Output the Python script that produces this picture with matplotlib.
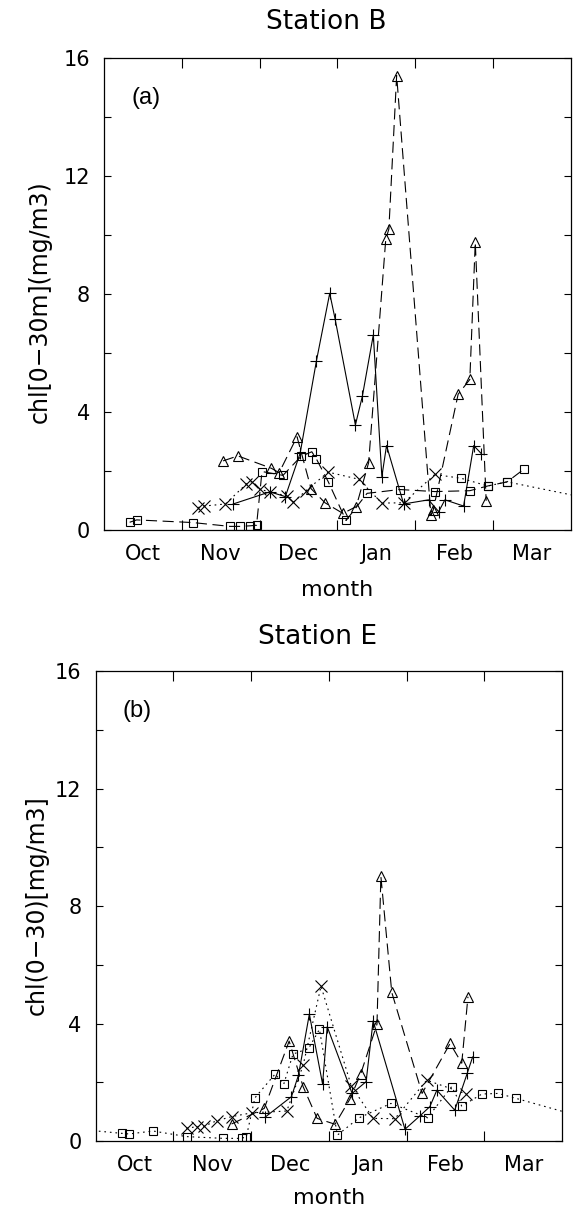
import numpy as np
import matplotlib
matplotlib.use("Agg")
import matplotlib.pyplot as plt

plt.rcParams['font.family'] = ['DejaVu Sans']
plt.rcParams['lines.scale_dashes'] = False

# x positions are in months since 1 Oct (0 = start of Oct, 6 = end of Mar)
MONTHS = ["Oct", "Nov", "Dec", "Jan", "Feb", "Mar"]

# ---- Station B (panel a) ----
a_plus_x = [1.66, 2.13, 2.33, 2.52, 2.73, 2.90, 2.97, 3.23, 3.32, 3.46, 3.57, 3.63,
            3.85, 4.17, 4.30, 4.38, 4.62, 4.75, 4.85]
a_plus_y = [0.88, 1.29, 1.13, 2.60, 5.74, 8.02, 7.14, 3.56, 4.54, 6.61, 1.81, 2.86,
            0.88, 1.02, 0.62, 1.02, 0.81, 2.86, 2.58]

a_tri_x = [1.53, 1.72, 2.15, 2.25, 2.48, 2.66, 2.84, 3.07, 3.24, 3.40, 3.62, 3.66,
           3.76, 4.20, 4.23, 4.55, 4.70, 4.77, 4.91]
a_tri_y = [2.34, 2.51, 2.09, 1.94, 3.16, 1.40, 0.92, 0.56, 0.79, 2.28, 9.85, 10.2,
           15.4, 0.51, 0.68, 4.60, 5.10, 9.75, 0.99]

a_x_x = [1.21, 1.29, 1.56, 1.83, 1.90, 2.00, 2.13, 2.35, 2.43, 2.59, 2.88, 3.27,
         3.57, 3.85, 4.25]
a_x_y = [0.76, 0.81, 0.88, 1.56, 1.64, 1.38, 1.29, 1.15, 0.93, 1.32, 1.96, 1.72,
         0.91, 0.92, 1.88]

a_sq_x = [0.33, 0.42, 1.14, 1.62, 1.75, 1.88, 1.96, 2.03, 2.30, 2.53, 2.67, 2.73,
          2.88, 3.11, 3.38, 3.80, 4.25, 4.70, 4.93, 5.18, 5.40]
a_sq_y = [0.26, 0.34, 0.25, 0.12, 0.12, 0.14, 0.16, 1.98, 1.85, 2.49, 2.65, 2.40,
          1.64, 0.32, 1.24, 1.37, 1.30, 1.33, 1.49, 1.63, 2.07]

a_sqd_x = [4.59, 4.93, 5.18, 6.15]
a_sqd_y = [1.75, 1.49, 1.63, 1.11]

# ---- Station E (panel b) ----
b_plus_x = [2.18, 2.52, 2.61, 2.75, 2.92, 2.98, 3.30, 3.48, 3.57, 3.98, 4.17, 4.30,
            4.39, 4.62, 4.78, 4.85]
b_plus_y = [0.81, 1.51, 2.24, 4.32, 1.94, 3.89, 1.62, 2.02, 4.09, 0.40, 0.85, 1.17,
            1.73, 1.05, 2.30, 2.86]

b_tri_x = [1.75, 2.17, 2.49, 2.67, 2.85, 3.08, 3.27, 3.41, 3.62, 3.67, 3.81, 4.20,
           4.56, 4.71, 4.79]
b_tri_y = [0.58, 1.11, 3.40, 1.85, 0.77, 0.57, 1.42, 2.28, 3.98, 9.01, 5.06, 1.62,
           3.32, 2.65, 4.91]

b_x_x = [1.17, 1.30, 1.40, 1.56, 1.75, 2.01, 2.46, 2.67, 2.90, 3.29, 3.57, 3.85,
         4.26, 4.77]
b_x_y = [0.43, 0.49, 0.51, 0.69, 0.83, 0.96, 1.02, 2.58, 5.27, 1.87, 0.77, 0.76,
         2.07, 1.60]

b_sq_x = [-0.10, 0.34, 0.43, 0.74, 1.17, 1.64, 1.88, 1.94, 2.05, 2.31, 2.42, 2.54,
          2.74, 2.88, 3.11, 3.39, 3.80, 4.27, 4.58, 4.71, 4.97, 5.18, 5.41, 6.15]
b_sq_y = [0.37, 0.26, 0.24, 0.34, 0.15, 0.09, 0.09, 0.15, 1.47, 2.28, 1.93, 2.96,
          3.15, 3.80, 0.20, 0.79, 1.28, 0.79, 1.85, 1.19, 1.60, 1.62, 1.45, 0.90]

DASH = (0, (8, 4))
DOT = (0, (1.2, 2.8))
LW = 0.8
MS = 7


def style_axes(ax, title, ylabel, tag, title_y, xlab_y, ylab_x, ylab_y):
    ax.set_xlim(0, 6)
    ax.set_ylim(0, 16)
    ax.set_xticks([1, 2, 3, 4, 5])
    ax.set_xticklabels([])
    ax.set_xticks(np.arange(6) + 0.5, minor=True)
    ax.set_xticklabels(MONTHS, minor=True)
    ax.tick_params(axis='x', which='major', direction='in', length=7, width=0.8,
                   top=True, bottom=True)
    ax.tick_params(axis='x', which='minor', length=0, pad=10, labelsize=15)
    ax.set_yticks(np.arange(0, 17, 2))
    ax.set_yticklabels([str(v) if v % 4 == 0 else "" for v in range(0, 17, 2)])
    ax.tick_params(axis='y', direction='in', length=5, width=0.8, left=True,
                   right=True, pad=10, labelsize=15)
    for s in ax.spines.values():
        s.set_linewidth(0.9)

    ax.set_xlabel("month", fontsize=16)
    ax.xaxis.label.set_va('center')
    ax.xaxis.set_label_coords(0.5, xlab_y)
    ax.set_ylabel(ylabel, fontsize=17)
    ax.yaxis.label.set_va('center')
    ax.yaxis.label.set_ha('center')
    ax.yaxis.set_label_coords(ylab_x, ylab_y)

    ax.text(0.476, title_y, title, transform=ax.transAxes, fontsize=19,
            ha='center', va='center')
    ax.text(0.09, 0.915, tag, transform=ax.transAxes, fontsize=17,
            family='Liberation Sans', ha='center', va='center')


def draw(ax, ls, x, y, marker, ms=MS):
    ax.plot(x, y, color='black', lw=LW, linestyle=ls, marker=marker, ms=ms,
            mfc='none', mec='black', mew=0.8)


fig = plt.figure(figsize=(5.79, 12.11), dpi=100)
ax1 = fig.add_axes([0.1796, 0.5624, 0.8066, 0.3898])
ax2 = fig.add_axes([0.1650, 0.0578, 0.8057, 0.3881])

# panel (a)
draw(ax1, '-', a_plus_x, a_plus_y, '+', 9)
draw(ax1, DASH, a_tri_x, a_tri_y, '^')
draw(ax1, DOT, a_x_x, a_x_y, 'x', 8)
draw(ax1, DASH, a_sq_x, a_sq_y, 's', 6)
ax1.plot(a_x_x[-1:] + a_sqd_x, a_x_y[-1:] + a_sqd_y, color='black', lw=LW, linestyle=DOT)
ax1.plot(a_sqd_x, a_sqd_y, linestyle='none', marker='s', ms=6, mfc='none', mec='black', mew=0.8)
style_axes(ax1, "Station B", "chl[0\u221230m](mg/m3)", "(a)",
           1.076, -0.127, -0.137, 0.483)

# panel (b)
draw(ax2, '-', b_plus_x, b_plus_y, '+', 9)
draw(ax2, DASH, b_tri_x, b_tri_y, '^')
draw(ax2, DOT, b_x_x, b_x_y, 'x', 8)
draw(ax2, DOT, b_sq_x, b_sq_y, 's', 6)
style_axes(ax2, "Station E", "chl(0\u221230)[mg/m3]", "(b)",
           1.072, -0.121, -0.125, 0.502)

fig.savefig("out.png", dpi=100, facecolor="white")
